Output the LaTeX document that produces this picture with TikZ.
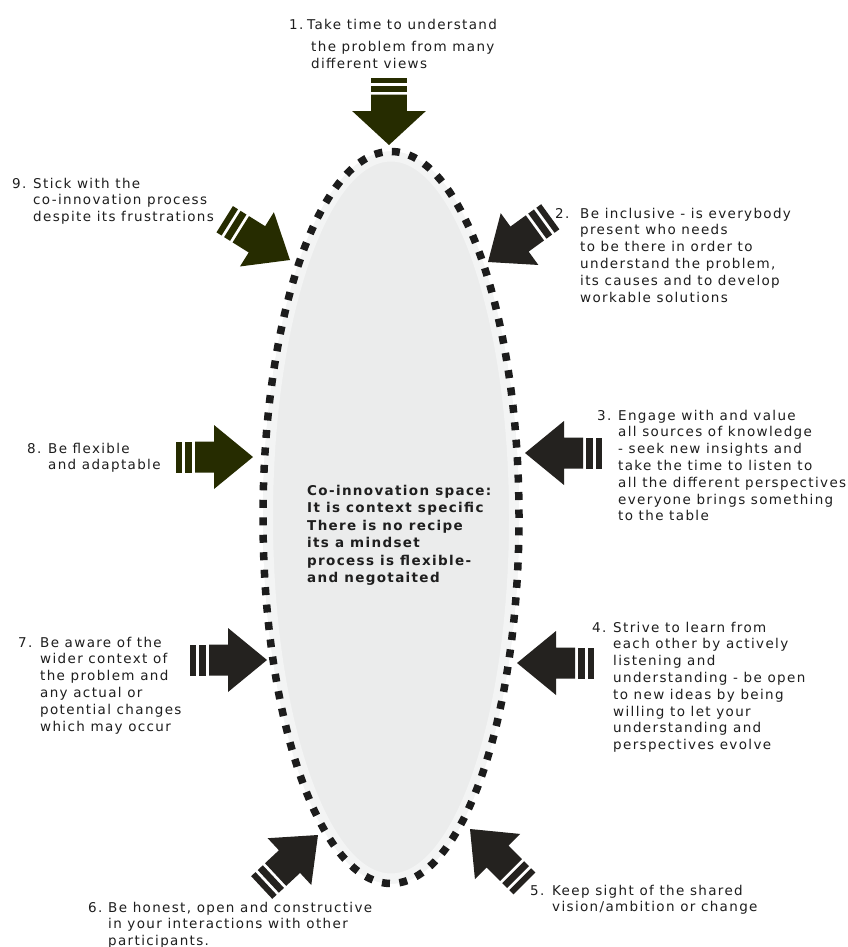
\documentclass[tikz,border=0pt]{standalone}
\usepackage{fontspec}
\setmainfont{DejaVu Sans}[LetterSpace=10]
\definecolor{olivearrow}{RGB}{38,44,0}
\definecolor{darkarrow}{RGB}{36,34,31}
\definecolor{txt}{RGB}{30,30,30}
\definecolor{spacefill}{RGB}{235,236,236}
\definecolor{halo}{RGB}{243,244,244}
\definecolor{dashcol}{RGB}{28,28,28}
\tikzset{
  lbl/.style={anchor=base west, inner sep=0pt, text=txt, font=\fontsize{13.5}{16.8}\selectfont},
  ctr/.style={anchor=base west, inner sep=0pt, text=txt, font=\bfseries\fontsize{13.5}{17.5}\selectfont},
  pics/fatarrow/.style={code={
    \fill (0,0) -- (-39,32) -- (-39,15.5) -- (-58,15.5) -- (-58,-15.5) -- (-39,-15.5) -- (-39,-32) -- cycle;
    \fill (-61,-15.5) rectangle (-68,15.5);
    \fill (-71,-15.5) rectangle (-77,15.5);
  }},
}
\newcommand\numlab[2]{\llap{\makebox[#1][l]{#2}}}
\begin{document}
\begin{tikzpicture}[x=1pt,y=-1pt]
\useasboundingbox (0,0) rectangle (848,947);
\fill[white] (0,0) rectangle (848,947);
% co-innovation space
\coordinate (c) at (391,517.5);
\fill[spacefill] (c) ellipse [x radius=128pt, y radius=366pt];
\draw[halo, line width=10pt] (c) ellipse [x radius=123pt, y radius=361pt];
\draw[dashcol, line width=7.5pt, dash pattern=on 8pt off 9.48pt] (c) ellipse [x radius=128pt, y radius=366pt];
% arrow tips
\coordinate (t1) at (389,145);
\coordinate (t2) at (488,262);
\coordinate (t3) at (525,453);
\coordinate (t4) at (517,663);
\coordinate (t5) at (470,829);
\coordinate (t6) at (318,835);
\coordinate (t7) at (267,660);
\coordinate (t8) at (253,457);
\coordinate (t9) at (290,260);
\pic[fill=olivearrow, rotate=-90, xscale=0.87, yscale=1.15] at (t1) {fatarrow};
\pic[fill=darkarrow, rotate=-144] at (t2) {fatarrow};
\pic[fill=darkarrow, rotate=180] at (t3) {fatarrow};
\pic[fill=darkarrow, rotate=180] at (t4) {fatarrow};
\pic[fill=darkarrow, rotate=135] at (t5) {fatarrow};
\pic[fill=darkarrow, rotate=43] at (t6) {fatarrow};
\pic[fill=darkarrow] at (t7) {fatarrow};
\pic[fill=olivearrow] at (t8) {fatarrow};
\pic[fill=olivearrow, rotate=-32] at (t9) {fatarrow};
% labels
\node[lbl] (n1) at (307,30) {\begin{tabular}[t]{@{}l@{}}\numlab{18pt}{1.}Take time to understand\\[5pt]
\hspace{4pt}the problem from many\\ \hspace{4pt}different views\end{tabular}};
\node[lbl] (n2) at (580,218) {\begin{tabular}[t]{@{}l@{}}\numlab{25pt}{2.}Be inclusive - is everybody\\
present who needs\\ to be there in order to\\ understand the problem,\\
its causes and to develop\\ workable solutions\end{tabular}};
\node[lbl] (n3) at (618,420) {\begin{tabular}[t]{@{}l@{}}\numlab{21pt}{3.}Engage with and value\\
all sources of knowledge\\ - seek new insights and\\ take the time to listen to\\
all the different perspectives\\ everyone brings something\\ to the table\end{tabular}};
\node[lbl] (n4) at (613,632) {\begin{tabular}[t]{@{}l@{}}\numlab{21pt}{4.}Strive to learn from\\
each other by actively\\ listening and\\ understanding - be open\\
to new ideas by being\\ willing to let your\\ understanding and\\ perspectives evolve\end{tabular}};
\node[lbl] (n5) at (552,895) {\begin{tabular}[t]{@{}l@{}}\numlab{22pt}{5.}Keep sight of the shared\\
vision/ambition or change\end{tabular}};
\node[lbl] (n6) at (108,912) {\begin{tabular}[t]{@{}l@{}}\numlab{20pt}{6.}Be honest, open and constructive\\
in your interactions with other\\ participants.\end{tabular}};
\node[lbl] (n7) at (40,647) {\begin{tabular}[t]{@{}l@{}}\numlab{22pt}{7.}Be aware of the\\
wider context of\\ the problem and\\ any actual or\\ potential changes\\ which may occur\end{tabular}};
\node[lbl] (n8) at (48,453) {\begin{tabular}[t]{@{}l@{}}\numlab{21pt}{8.}Be flexible\\
and adaptable\end{tabular}};
\node[lbl] (n9) at (33,188) {\begin{tabular}[t]{@{}l@{}}\numlab{21pt}{9.}Stick with the\\
co-innovation process\\ despite its frustrations\end{tabular}};
\node[ctr] (space) at (307,495) {\begin{tabular}[t]{@{}l@{}}Co-innovation space:\\
It is context specific\\ There is no recipe\\ its a mindset\\ process is flexible-\\ and negotaited\end{tabular}};
\end{tikzpicture}
\end{document}
